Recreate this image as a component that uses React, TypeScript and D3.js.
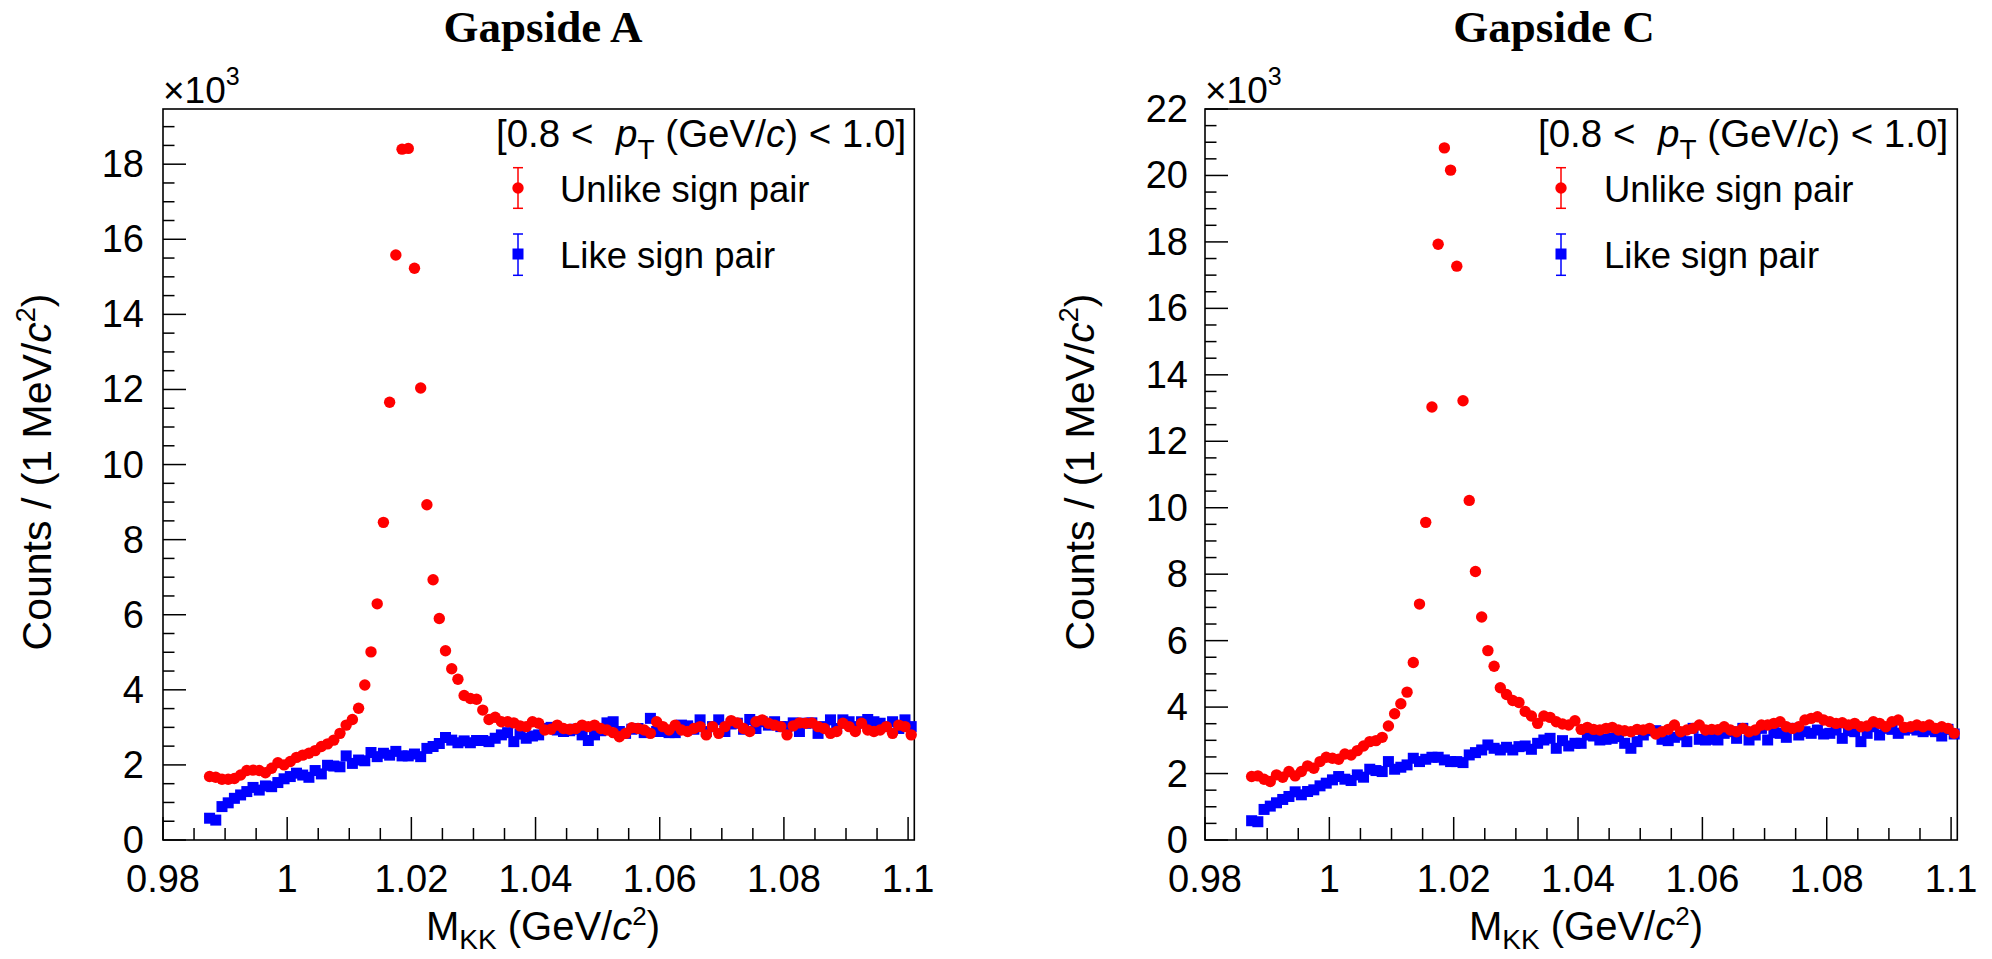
import React from 'react';
import * as d3 from 'd3';

// Bin centres of M_KK (GeV/c^2), 1 MeV bins
const massBins = [
  0.9875, 0.9885, 0.9895, 0.9905, 0.9915, 0.9925, 0.9935, 0.9945, 0.9955, 0.9965,
  0.9975, 0.9985, 0.9995, 1.0005, 1.0015, 1.0025, 1.0035, 1.0045, 1.0055, 1.0065,
  1.0075, 1.0085, 1.0095, 1.0105, 1.0115, 1.0125, 1.0135, 1.0145, 1.0155, 1.0165,
  1.0175, 1.0185, 1.0195, 1.0205, 1.0215, 1.0225, 1.0235, 1.0245, 1.0255, 1.0265,
  1.0275, 1.0285, 1.0295, 1.0305, 1.0315, 1.0325, 1.0335, 1.0345, 1.0355, 1.0365,
  1.0375, 1.0385, 1.0395, 1.0405, 1.0415, 1.0425, 1.0435, 1.0445, 1.0455, 1.0465,
  1.0475, 1.0485, 1.0495, 1.0505, 1.0515, 1.0525, 1.0535, 1.0545, 1.0555, 1.0565,
  1.0575, 1.0585, 1.0595, 1.0605, 1.0615, 1.0625, 1.0635, 1.0645, 1.0655, 1.0665,
  1.0675, 1.0685, 1.0695, 1.0705, 1.0715, 1.0725, 1.0735, 1.0745, 1.0755, 1.0765,
  1.0775, 1.0785, 1.0795, 1.0805, 1.0815, 1.0825, 1.0835, 1.0845, 1.0855, 1.0865,
  1.0875, 1.0885, 1.0895, 1.0905, 1.0915, 1.0925, 1.0935, 1.0945, 1.0955, 1.0965,
  1.0975, 1.0985, 1.0995, 1.1005,
];

// Counts (x10^3) — Gapside A
const unlikeA = [
  1.69, 1.67, 1.62, 1.62, 1.64, 1.73, 1.85, 1.86, 1.85, 1.79, 1.91, 2.06, 2.0, 2.09, 2.2, 2.26, 2.31, 2.38, 2.49, 2.56,
  2.66, 2.84, 3.06, 3.21, 3.51, 4.13, 5.01, 6.29, 8.46, 11.66, 15.58, 18.4, 18.42, 15.23, 12.04, 8.93, 6.93, 5.9, 5.04, 4.56,
  4.28, 3.85, 3.77, 3.75, 3.46, 3.21, 3.27, 3.15, 3.15, 3.12, 3.04, 3.02, 3.15, 3.11, 2.93, 2.95, 3.06, 2.97, 2.95, 2.97,
  3.06, 3.02, 3.06, 2.97, 2.93, 2.86, 2.75, 2.84, 2.99, 2.97, 2.93, 2.84, 3.15, 3.02, 2.93, 3.06, 2.93, 2.89, 2.97, 3.02,
  2.8, 3.02, 2.84, 3.02, 3.18, 3.12, 2.97, 2.89, 3.15, 3.2, 3.11, 3.06, 3.02, 2.8, 3.04, 3.12, 3.11, 3.12, 3.02, 2.97,
  2.84, 2.89, 3.11, 3.02, 2.89, 3.11, 2.93, 2.89, 2.93, 3.02, 2.84, 3.06, 3.02, 2.8,
];
const likeA = [
  0.58, 0.53, 0.89, 0.99, 1.11, 1.2, 1.29, 1.4, 1.33, 1.44, 1.42, 1.53, 1.63, 1.69, 1.78, 1.73, 1.67, 1.85, 1.76, 1.99,
  1.97, 1.95, 2.24, 2.04, 2.13, 2.11, 2.33, 2.22, 2.31, 2.26, 2.36, 2.24, 2.24, 2.29, 2.22, 2.44, 2.49, 2.57, 2.73, 2.66,
  2.59, 2.64, 2.59, 2.65, 2.65, 2.62, 2.71, 2.8, 2.86, 2.62, 2.82, 2.71, 2.77, 2.8, 2.97, 3.0, 2.93, 2.89, 2.91, 2.95,
  2.8, 2.65, 2.8, 2.91, 3.12, 3.15, 2.89, 2.84, 2.95, 2.97, 2.86, 3.24, 2.89, 2.89, 2.86, 2.86, 3.06, 3.04, 2.95, 3.2,
  2.89, 3.02, 3.2, 2.89, 3.09, 3.11, 2.95, 3.21, 2.97, 3.15, 3.06, 3.15, 3.02, 3.02, 3.12, 2.89, 3.11, 3.12, 2.84, 3.02,
  3.2, 2.97, 3.2, 3.15, 3.02, 3.15, 3.21, 3.15, 3.11, 3.02, 3.15, 2.97, 3.2, 3.02,
];

// Counts (x10^3) — Gapside C
const unlikeC = [
  1.91, 1.93, 1.83, 1.76, 1.96, 1.89, 2.06, 1.93, 2.06, 2.23, 2.16, 2.36, 2.49, 2.46, 2.43, 2.59, 2.56, 2.69, 2.83, 2.96,
  2.99, 3.09, 3.43, 3.8, 4.1, 4.45, 5.34, 7.1, 9.56, 13.03, 17.93, 20.83, 20.16, 17.27, 13.22, 10.22, 8.08, 6.71, 5.7, 5.23,
  4.58, 4.38, 4.2, 4.14, 3.87, 3.73, 3.51, 3.73, 3.69, 3.56, 3.49, 3.46, 3.59, 3.33, 3.39, 3.33, 3.31, 3.36, 3.39, 3.31,
  3.29, 3.26, 3.33, 3.31, 3.36, 3.19, 3.26, 3.33, 3.46, 3.26, 3.31, 3.36, 3.46, 3.31, 3.33, 3.32, 3.41, 3.31, 3.26, 3.36,
  3.26, 3.31, 3.46, 3.46, 3.51, 3.56, 3.41, 3.36, 3.41, 3.61, 3.66, 3.71, 3.61, 3.56, 3.51, 3.53, 3.46, 3.51, 3.41, 3.43,
  3.56, 3.51, 3.41, 3.56, 3.61, 3.39, 3.41, 3.46, 3.41, 3.46, 3.36, 3.41, 3.36, 3.21,
];
const likeC = [
  0.58, 0.55, 0.92, 1.02, 1.12, 1.22, 1.31, 1.45, 1.36, 1.46, 1.51, 1.63, 1.71, 1.81, 1.91, 1.83, 1.79, 1.96, 1.89, 2.13,
  2.09, 2.06, 2.36, 2.13, 2.19, 2.26, 2.46, 2.36, 2.43, 2.49, 2.49, 2.41, 2.36, 2.36, 2.33, 2.56, 2.63, 2.71, 2.86, 2.76,
  2.71, 2.79, 2.71, 2.81, 2.83, 2.73, 2.91, 3.01, 3.06, 2.76, 2.99, 2.83, 2.91, 2.91, 3.16, 3.13, 3.01, 3.03, 3.06, 3.11,
  2.91, 2.76, 2.96, 3.16, 3.29, 3.29, 3.03, 2.99, 3.09, 3.16, 2.96, 3.36, 3.03, 3.01, 3.03, 3.01, 3.21, 3.26, 3.06, 3.36,
  3.01, 3.16, 3.36, 3.01, 3.23, 3.21, 3.09, 3.36, 3.16, 3.26, 3.21, 3.31, 3.19, 3.21, 3.31, 3.06, 3.29, 3.26, 2.96, 3.21,
  3.41, 3.16, 3.36, 3.33, 3.21, 3.31, 3.36, 3.31, 3.26, 3.31, 3.26, 3.13, 3.33, 3.19,
];

const xMajorTicks = [0.98, 1.0, 1.02, 1.04, 1.06, 1.08, 1.1];
const xTickLabels = ['0.98', '1', '1.02', '1.04', '1.06', '1.08', '1.1'];
const yTicksA = [0, 2, 4, 6, 8, 10, 12, 14, 16, 18];
const yTicksC = [0, 2, 4, 6, 8, 10, 12, 14, 16, 18, 20, 22];
const panelTitles = ['Gapside A', 'Gapside C'];
const legendLabels = ['Unlike sign pair', 'Like sign pair'];

const SANS = '"Liberation Sans", Arial, Helvetica, sans-serif';
const SERIF = '"Liberation Serif", "Times New Roman", serif';
const RED = '#ff0000';
const BLUE = '#0000ff';

const panels = [
  {
    title: panelTitles[0], unlike: unlikeA, like: likeA, yTicks: yTicksA, yMax: 19.47,
    x0: 163, x1: 914.3, titleX: 543, yTitleX: 51, yLabelX: 144, xTitleX: 543,
    legX: 496, legMarkX: 518, legTextX: 560,
  },
  {
    title: panelTitles[1], unlike: unlikeC, like: likeC, yTicks: yTicksC, yMax: 22,
    x0: 1205, x1: 1957.3, titleX: 1554, yTitleX: 1094, yLabelX: 1188, xTitleX: 1586,
    legX: 1538, legMarkX: 1561, legTextX: 1604,
  },
];

const Y0 = 109;
const Y1 = 840;

function Panel({ p }: { p: (typeof panels)[number] }) {
  const x = d3.scaleLinear().domain([0.98, 1.101]).range([p.x0, p.x1]);
  const y = d3.scaleLinear().domain([0, p.yMax]).range([Y1, Y0]);
  const xMinor = d3.range(0, 25).map((k) => +(0.98 + k * 0.005).toFixed(3)).filter((v) => !xMajorTicks.some((m) => Math.abs(m - v) < 1e-6));
  const yMinor = d3.range(0, Math.floor(p.yMax * 2) + 1).map((k) => k * 0.5).filter((v) => v % 2 !== 0);
  const r = 5.7;
  const sq = 11;
  const pts = massBins.map((m, i) => ({ m, u: p.unlike[i], l: p.like[i] }));
  return (
    <g>
      <text x={p.titleX} y={42} textAnchor="middle" fontFamily={SERIF} fontWeight="bold" fontSize={45}>{p.title}</text>
      {/* frame */}
      <rect x={p.x0} y={Y0} width={p.x1 - p.x0} height={Y1 - Y0} fill="none" stroke="#000" strokeWidth={1.6} />
      {/* x ticks */}
      {xMajorTicks.map((t, i) => (
        <g key={'xm' + i}>
          <line x1={x(t)} x2={x(t)} y1={Y1} y2={Y1 - 23} stroke="#000" strokeWidth={1.5} />
          <text x={x(t)} y={892} textAnchor="middle" fontFamily={SANS} fontSize={38}>{xTickLabels[i]}</text>
        </g>
      ))}
      {xMinor.map((t, i) => (
        <line key={'xn' + i} x1={x(t)} x2={x(t)} y1={Y1} y2={Y1 - 12} stroke="#000" strokeWidth={1.5} />
      ))}
      {/* y ticks */}
      {p.yTicks.map((t, i) => (
        <g key={'ym' + i}>
          <line x1={p.x0} x2={p.x0 + 23} y1={y(t)} y2={y(t)} stroke="#000" strokeWidth={1.5} />
          <text x={p.yLabelX} y={y(t) + 13} textAnchor="end" fontFamily={SANS} fontSize={38}>{t}</text>
        </g>
      ))}
      {yMinor.map((t, i) => (
        <line key={'yn' + i} x1={p.x0} x2={p.x0 + 11.5} y1={y(t)} y2={y(t)} stroke="#000" strokeWidth={1.5} />
      ))}
      {/* exponent */}
      <text x={p.x0} y={103} fontFamily={SANS} fontSize={37}>
        ×10<tspan fontSize={25} dy={-18}>3</tspan>
      </text>
      {/* axis titles */}
      <text x={p.xTitleX} y={940} textAnchor="middle" fontFamily={SANS} fontSize={40}>
        M<tspan fontSize={28} dy={9}>KK</tspan><tspan dy={-9}> (GeV/</tspan><tspan fontStyle="italic">c</tspan>
        <tspan fontSize={26} dy={-15}>2</tspan><tspan dy={15}>)</tspan>
      </text>
      <text transform={`translate(${p.yTitleX},472) rotate(-90)`} textAnchor="middle" fontFamily={SANS} fontSize={41}>
        Counts / (1 MeV/<tspan fontStyle="italic">c</tspan><tspan fontSize={27} dy={-16}>2</tspan><tspan dy={16}>)</tspan>
      </text>
      {/* data */}
      <g>
        {pts.map((d, i) => (
          <rect key={'l' + i} x={x(d.m) - sq / 2} y={y(d.l) - sq / 2} width={sq} height={sq} fill={BLUE} />
        ))}
        {pts.map((d, i) => (
          <circle key={'u' + i} cx={x(d.m)} cy={y(d.u)} r={r} fill={RED} />
        ))}
      </g>
      {/* legend */}
      <text x={p.legX} y={146.5} fontFamily={SANS} fontSize={38.5}>
        [0.8 {'<'}  <tspan fontStyle="italic" dx={12}>p</tspan><tspan fontSize={28} dy={12}>T</tspan>
        <tspan dy={-12}> (GeV/</tspan><tspan fontStyle="italic">c</tspan>) {'<'} 1.0]
      </text>
      <g>
        <line x1={p.legMarkX} x2={p.legMarkX} y1={167.7} y2={208.3} stroke={RED} strokeWidth={1.5} />
        <line x1={p.legMarkX - 5} x2={p.legMarkX + 5} y1={167.7} y2={167.7} stroke={RED} strokeWidth={1.5} />
        <line x1={p.legMarkX - 5} x2={p.legMarkX + 5} y1={208.3} y2={208.3} stroke={RED} strokeWidth={1.5} />
        <circle cx={p.legMarkX} cy={188} r={r} fill={RED} />
        <text x={p.legTextX} y={201.5} fontFamily={SANS} fontSize={36.5}>{legendLabels[0]}</text>
      </g>
      <g>
        <line x1={p.legMarkX} x2={p.legMarkX} y1={234} y2={275.3} stroke={BLUE} strokeWidth={1.5} />
        <line x1={p.legMarkX - 5} x2={p.legMarkX + 5} y1={234} y2={234} stroke={BLUE} strokeWidth={1.5} />
        <line x1={p.legMarkX - 5} x2={p.legMarkX + 5} y1={275.3} y2={275.3} stroke={BLUE} strokeWidth={1.5} />
        <rect x={p.legMarkX - sq / 2} y={254 - sq / 2} width={sq} height={sq} fill={BLUE} />
        <text x={p.legTextX} y={268} fontFamily={SANS} fontSize={36.5}>{legendLabels[1]}</text>
      </g>
    </g>
  );
}

export default function App() {
  return (
    <svg width={1992} height={959} style={{ position: 'absolute', left: 0, top: 0, background: '#fff' }}>
      <rect x={0} y={0} width={1992} height={959} fill="#fff" />
      {panels.map((p, i) => (
        <Panel key={i} p={p} />
      ))}
    </svg>
  );
}
